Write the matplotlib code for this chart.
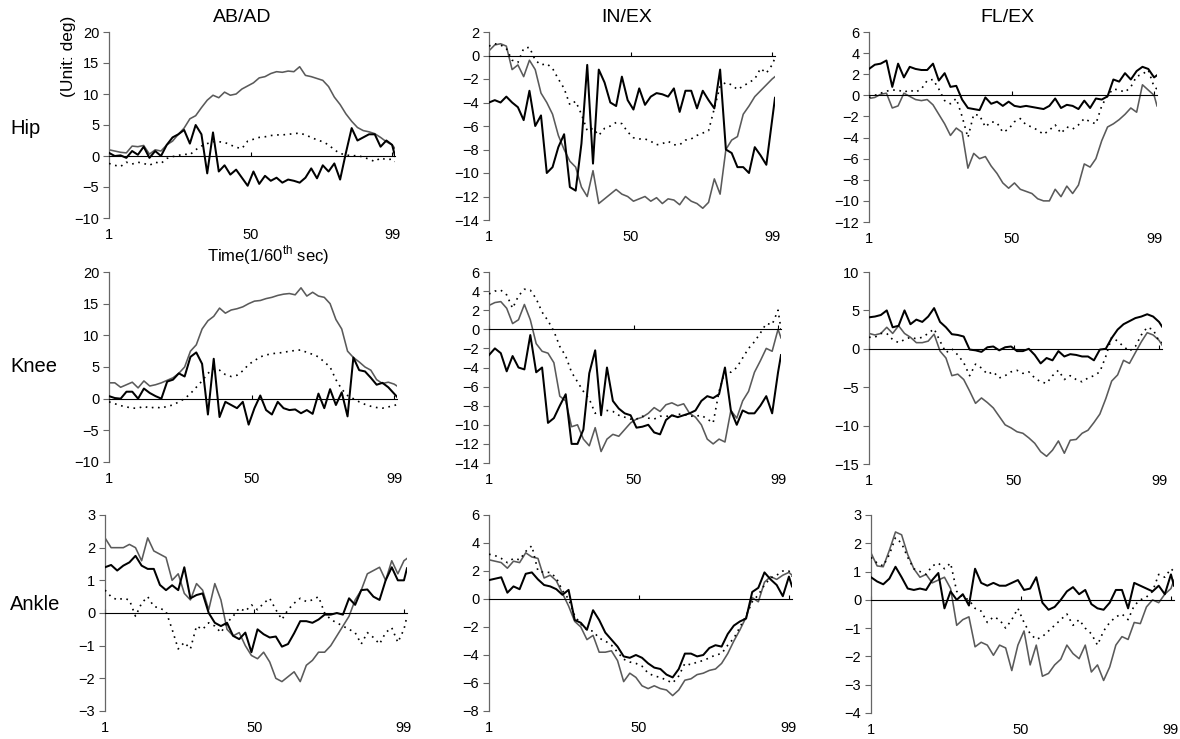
import matplotlib
matplotlib.use("Agg")
import matplotlib.pyplot as plt
import numpy as np

plt.rcParams["font.family"] = ["Liberation Sans", "DejaVu Sans"]
plt.rcParams["mathtext.fontset"] = "custom"
plt.rcParams["mathtext.rm"] = "Liberation Sans"

# frames sampled every second 1/60 s step, last frame = 100
frames = list(range(1, 100, 2)) + [100]

col_titles = ["AB/AD", "IN/EX", "FL/EX"]
row_titles = ["Hip", "Knee", "Ankle"]
x_tick_labels = [1, 50, 99]

# ---- Hip ----
hip_abad_black = [0.5, 0.0, 0.1, -0.3, 0.8, 0.2, 1.5, -0.3, 0.8, 0.0,
                  1.8, 3.0, 3.5, 4.2, 2.0, 5.0, 3.5, -2.8, 3.8, -2.5,
                  -1.5, -3.0, -2.2, -3.5, -4.8, -2.5, -4.5, -3.2, -4.0, -3.5,
                  -4.3, -3.8, -4.0, -4.3, -3.5, -2.0, -3.6, -1.5, -2.5, -1.2,
                  -3.8, 0.5, 4.5, 2.5, 3.0, 3.5, 3.5, 1.5, 2.5, 1.8, 0.0]
hip_abad_gray = [1.0, 0.8, 0.6, 0.5, 1.6, 1.5, 1.7, 0.3, 1.0, 0.8,
                 1.8, 2.4, 3.5, 4.5, 6.0, 6.5, 7.8, 9.0, 9.8, 9.4,
                 10.3, 9.8, 10.0, 10.8, 11.3, 11.8, 12.6, 12.8, 13.3, 13.6,
                 13.5, 13.7, 13.6, 14.4, 13.0, 12.8, 12.5, 12.2, 11.2, 9.5,
                 8.3, 6.8, 5.6, 4.6, 4.1, 3.9, 3.6, 3.0, 2.3, 1.8, 1.2]
hip_abad_dot = [-1.2, -1.5, -1.7, -1.0, -1.3, -1.0, -1.2, -1.5, -1.0, -1.2,
                -0.4, -0.1, 0.1, 0.3, 0.2, 1.0, 1.6, 2.0, 2.3, 2.3,
                2.2, 1.8, 1.4, 1.2, 2.4, 2.7, 3.0, 3.1, 3.3, 3.4,
                3.4, 3.5, 3.6, 3.7, 3.4, 3.0, 2.6, 2.3, 1.8, 1.0,
                0.4, 0.2, 0.0, 0.1, -0.2, -0.5, -0.9, -0.3, -0.6, -0.5, -0.9]

hip_inex_black = [-4.0, -3.8, -4.0, -3.5, -4.0, -4.4, -5.5, -3.0, -6.0, -5.1,
                  -10.0, -9.5, -7.8, -6.7, -11.2, -11.5, -7.5, -0.8, -9.2, -1.2,
                  -2.3, -4.0, -4.3, -1.8, -3.8, -4.6, -2.8, -4.2, -3.5, -3.2,
                  -3.3, -3.5, -2.8, -4.8, -3.0, -3.0, -4.5, -3.0, -3.8, -4.5,
                  -1.2, -8.0, -8.3, -9.5, -9.5, -10.0, -7.8, -8.5, -9.3, -5.5, -3.6]
hip_inex_gray = [0.4, 0.9, 1.0, 0.8, -1.2, -0.8, -1.8, -0.4, -1.2, -3.2,
                 -4.0, -5.0, -6.8, -8.0, -9.0, -9.5, -11.2, -12.0, -9.8, -12.6,
                 -12.2, -11.8, -11.4, -11.8, -12.0, -12.4, -12.2, -12.0, -12.4, -12.1,
                 -12.6, -12.2, -12.3, -12.7, -12.0, -12.4, -12.6, -13.0, -12.5, -10.5,
                 -11.8, -8.0, -7.2, -6.9, -5.0, -4.3, -3.5, -3.0, -2.5, -2.0, -1.8]
hip_inex_dot = [0.8, 1.0, 0.9, 0.6, -0.4, -0.6, 0.6, 0.7, -0.4, -0.8,
                -0.7, -1.1, -2.0, -2.8, -4.2, -3.9, -5.0, -6.4, -6.2, -6.8,
                -6.2, -6.0, -5.7, -5.8, -6.5, -7.0, -7.1, -7.1, -7.3, -7.6,
                -7.5, -7.3, -7.6, -7.6, -7.2, -7.1, -6.8, -6.6, -6.4, -4.5,
                -2.6, -2.3, -2.5, -2.9, -2.6, -2.3, -2.0, -1.1, -1.5, -0.8, -0.2]

hip_flex_black = [2.5, 2.9, 3.0, 3.3, 0.8, 3.0, 1.7, 2.7, 2.5, 2.4,
                  2.4, 3.0, 1.4, 2.1, 0.8, 0.9, -0.4, -1.2, -1.3, -1.4,
                  -0.2, -0.8, -0.6, -1.0, -0.6, -1.0, -1.1, -1.0, -1.1, -1.2,
                  -1.3, -1.0, -0.3, -1.2, -0.9, -1.0, -1.3, -0.5, -1.2, -0.3,
                  -0.4, -0.1, 1.5, 1.3, 2.1, 1.5, 2.3, 2.7, 2.5, 1.7, 1.9]
hip_flex_gray = [-0.3, -0.2, 0.1, 0.2, -1.2, -1.0, 0.2, -0.1, -0.4, -0.5,
                 -0.4, -0.9, -1.8, -2.7, -3.8, -3.1, -3.5, -6.9, -5.5, -6.0,
                 -5.8, -6.7, -7.4, -8.3, -8.8, -8.3, -8.9, -9.1, -9.3, -9.8,
                 -10.0, -10.0, -8.9, -9.6, -8.6, -9.3, -8.5, -6.5, -6.8, -6.0,
                 -4.3, -3.0, -2.7, -2.3, -1.8, -1.2, -1.6, 1.0, 0.5, 0.0, -1.0]
hip_flex_dot = [-0.2, 0.0, 0.2, 0.4, 0.5, 0.5, 0.3, 0.5, 0.3, 0.6,
                1.4, 1.5, 0.6, -0.5, -0.8, -0.3, -2.0, -4.0, -1.8, -1.9,
                -3.0, -2.5, -2.6, -3.5, -3.2, -2.5, -2.2, -2.8, -3.0, -3.3,
                -3.7, -3.3, -2.8, -3.6, -3.0, -3.2, -2.8, -2.2, -2.5, -2.7,
                -1.0, 0.0, 0.6, 0.5, 0.3, 0.8, 1.8, 2.0, 2.4, 0.8, 0.6]

# ---- Knee ----
knee_abad_black = [0.4, 0.1, 0.0, 1.1, 1.1, 0.0, 1.6, 0.9, 0.4, 0.0,
                   2.7, 3.0, 4.0, 3.5, 6.6, 7.3, 5.5, -2.5, 6.3, -2.9,
                   -0.5, -1.0, -1.5, -0.5, -4.1, -1.5, 0.5, -1.8, -2.5, -0.5,
                   -1.5, -1.8, -1.7, -2.3, -1.8, -2.4, 0.8, -1.5, 1.5, -1.0,
                   1.0, -2.8, 6.5, 4.5, 4.3, 3.3, 2.2, 2.5, 1.8, 0.8, 0.3]
knee_abad_gray = [2.5, 2.5, 1.8, 2.2, 2.6, 1.7, 2.8, 2.0, 2.2, 2.5,
                  2.9, 3.3, 4.0, 5.0, 7.5, 8.5, 11.0, 12.3, 13.0, 14.3,
                  13.5, 14.0, 14.2, 14.5, 15.0, 15.4, 15.5, 15.8, 16.0, 16.3,
                  16.5, 16.6, 16.4, 17.5, 16.2, 16.8, 16.2, 16.0, 15.0, 12.5,
                  11.0, 7.5, 6.5, 5.8, 5.0, 4.5, 3.0, 2.4, 2.6, 2.3, 2.0]
knee_abad_dot = [-0.5, -0.8, -1.1, -1.3, -1.5, -1.5, -1.2, -1.5, -1.3, -1.5,
                 -1.2, -1.0, -0.5, 0.0, 0.8, 1.8, 2.8, 4.0, 4.7, 4.5,
                 3.8, 3.5, 3.7, 4.4, 5.4, 6.0, 6.6, 6.9, 7.1, 7.2,
                 7.3, 7.5, 7.6, 7.7, 7.3, 7.0, 6.6, 5.8, 5.0, 3.0,
                 1.5, 0.5, 0.0, -0.5, -0.9, -1.2, -1.4, -1.5, -1.3, -1.1, -0.9]

knee_inex_black = [-2.7, -2.0, -2.5, -4.4, -2.8, -4.0, -4.2, -0.6, -4.5, -4.0,
                   -9.8, -9.3, -8.0, -6.8, -12.0, -12.0, -10.5, -4.6, -2.2, -9.0,
                   -4.0, -7.5, -8.3, -8.8, -9.0, -10.3, -10.2, -10.0, -10.8, -11.0,
                   -9.5, -9.0, -9.2, -9.0, -8.8, -8.5, -7.5, -7.0, -7.2, -6.8,
                   -4.0, -8.5, -10.0, -8.5, -8.8, -8.8, -8.0, -7.0, -8.8, -4.5, -2.7]
knee_inex_gray = [2.5, 2.8, 2.9, 2.2, 0.6, 1.0, 2.6, 1.0, -1.5, -2.3,
                  -2.5, -3.5, -7.0, -7.5, -10.2, -10.0, -11.5, -12.2, -10.3, -12.8,
                  -11.5, -11.0, -11.2, -10.5, -9.8, -9.4, -9.2, -8.8, -8.2, -8.6,
                  -7.9, -7.7, -8.0, -7.8, -8.8, -9.2, -10.0, -11.5, -12.0, -11.5,
                  -11.8, -8.5, -9.3, -7.5, -6.5, -4.5, -3.3, -2.0, -2.3, 0.0, -0.9]
knee_inex_dot = [3.7, 4.0, 4.1, 3.6, 2.2, 3.5, 4.2, 4.1, 3.2, 1.8,
                 0.9, -0.2, -1.8, -2.8, -4.5, -5.5, -6.5, -7.3, -8.8, -8.5,
                 -8.5, -8.6, -9.0, -9.2, -9.4, -9.4, -9.1, -9.3, -9.4, -9.1,
                 -9.1, -9.1, -8.9, -8.9, -9.1, -9.1, -9.0, -9.4, -9.8, -6.5,
                 -4.4, -4.5, -4.0, -3.0, -2.0, -1.3, -0.4, 0.6, 0.5, 2.0, 0.0]

knee_flex_black = [4.1, 4.2, 4.4, 5.0, 2.8, 3.0, 5.0, 3.2, 3.8, 3.5,
                   4.2, 5.3, 3.5, 2.8, 1.9, 1.8, 1.6, -0.1, -0.2, -0.4,
                   0.2, 0.3, -0.2, 0.2, 0.3, -0.3, -0.3, 0.0, -0.8, -1.9,
                   -1.2, -1.5, -0.3, -1.0, -0.7, -0.8, -1.0, -1.0, -1.5, -0.1,
                   0.0, 1.4, 2.5, 3.2, 3.6, 4.0, 4.2, 4.5, 4.2, 3.5, 2.9]
knee_flex_gray = [2.0, 1.8, 2.0, 2.8, 2.0, 3.0, 2.0, 1.5, 0.8, 0.8,
                  1.0, 1.9, -0.3, -1.2, -3.5, -3.3, -4.0, -5.5, -7.1, -6.4,
                  -7.0, -7.7, -8.8, -9.9, -10.3, -10.8, -11.0, -11.6, -12.3, -13.4,
                  -14.0, -13.2, -12.0, -13.6, -11.9, -11.8, -11.0, -10.6, -9.6, -8.5,
                  -6.5, -4.2, -3.4, -1.5, -1.9, -0.5, 0.9, 2.1, 1.8, 1.1, 0.5]
knee_flex_dot = [1.5, 1.5, 2.0, 2.0, 1.2, 0.8, 1.2, 1.5, 1.3, 1.5,
                 2.0, 2.6, 1.0, -0.5, 0.0, -0.8, -1.8, -3.5, -2.0, -2.5,
                 -3.3, -3.0, -3.8, -3.5, -3.0, -2.8, -3.2, -3.0, -3.8, -4.3,
                 -4.5, -3.5, -2.8, -4.0, -3.5, -4.0, -4.3, -3.8, -3.5, -3.0,
                 -1.0, 1.5, 1.0, 0.3, -0.3, 0.3, 1.8, 2.8, 2.5, 1.0, 0.8]

# ---- Ankle ----
ankle_abad_black = [1.4, 1.47, 1.3, 1.45, 1.55, 1.75, 1.45, 1.35, 1.35, 0.86,
                    0.7, 0.85, 0.7, 1.4, 0.45, 0.55, 0.6, 0.0, -0.3, -0.4,
                    -0.3, -0.7, -0.8, -0.6, -1.2, -0.5, -0.65, -0.75, -0.72, -1.03,
                    -0.95, -0.62, -0.25, -0.25, -0.3, -0.2, -0.05, -0.05, 0.0, -0.05,
                    0.45, 0.25, 0.7, 0.72, 0.5, 0.4, 1.0, 1.4, 1.0, 1.0, 1.37]
ankle_abad_gray = [2.3, 2.0, 2.0, 2.0, 2.1, 2.0, 1.6, 2.3, 1.9, 1.8,
                   1.7, 1.0, 1.2, 0.6, 0.4, 0.9, 0.7, 0.1, 0.9, 0.4,
                   -0.5, -0.7, -0.6, -1.0, -1.3, -1.4, -1.2, -1.5, -2.0, -2.1,
                   -1.95, -1.8, -2.1, -1.6, -1.45, -1.2, -1.2, -1.0, -0.7, -0.4,
                   -0.1, 0.4, 0.7, 1.2, 1.3, 1.4, 1.0, 1.6, 1.2, 1.6, 1.67]
ankle_abad_dot = [0.7, 0.5, 0.4, 0.45, 0.4, -0.1, 0.3, 0.5, 0.2, 0.15,
                  0.05, -0.5, -1.1, -0.9, -1.1, -0.4, -0.5, -0.3, -0.4, -0.6,
                  -0.3, -0.1, 0.15, 0.05, 0.25, 0.1, 0.3, 0.45, 0.1, -0.2,
                  0.1, 0.3, 0.45, 0.35, 0.4, 0.5, 0.0, -0.2, -0.3, -0.4,
                  -0.5, -0.6, -0.95, -0.6, -0.75, -0.95, -0.6, -0.45, -0.9, -0.5, -0.1]

ankle_inex_black = [1.35, 1.45, 1.55, 0.45, 0.9, 0.7, 1.8, 1.9, 1.4, 1.0,
                    0.9, 0.7, 0.3, 0.65, -1.5, -1.7, -2.2, -0.8, -1.5, -2.4,
                    -2.9, -3.4, -4.1, -4.2, -4.0, -4.2, -4.6, -4.9, -5.0, -5.4,
                    -5.6, -5.0, -3.9, -3.9, -4.1, -4.0, -3.5, -3.3, -3.4, -2.5,
                    -1.9, -1.6, -1.4, 0.5, 0.8, 1.9, 1.4, 1.0, 0.2, 1.6, 0.9]
ankle_inex_gray = [2.8, 2.7, 2.6, 2.2, 2.7, 2.6, 3.3, 3.0, 2.9, 1.5,
                   1.7, 1.3, 0.4, -0.5, -1.6, -2.0, -2.9, -2.6, -3.8, -3.8,
                   -3.7, -4.4, -5.9, -5.3, -5.6, -6.2, -6.4, -6.2, -6.4, -6.5,
                   -6.9, -6.5, -5.8, -5.7, -5.4, -5.3, -5.1, -5.0, -4.6, -3.9,
                   -3.0, -2.2, -1.3, 0.1, -0.2, 1.2, 1.6, 1.4, 1.7, 1.9, 1.7]
ankle_inex_dot = [3.2, 3.1, 2.9, 2.6, 2.9, 2.8, 3.4, 3.8, 2.0, 1.9,
                  1.9, 1.5, 0.6, 0.0, -1.2, -1.8, -2.2, -2.3, -2.8, -3.0,
                  -3.3, -3.8, -4.3, -4.5, -4.6, -4.8, -5.3, -5.5, -5.6, -5.8,
                  -6.0, -5.5, -4.6, -4.7, -4.5, -4.4, -4.2, -4.0, -3.9, -3.3,
                  -2.8, -2.0, -1.2, -0.2, 0.3, 1.0, 1.5, 1.7, 2.0, 2.0, 1.6]

ankle_flex_black = [0.8, 0.65, 0.55, 0.75, 1.17, 0.8, 0.4, 0.35, 0.4, 0.35,
                    0.7, 0.95, -0.3, 0.3, 0.0, 0.2, -0.2, 1.1, 0.6, 0.5,
                    0.6, 0.5, 0.5, 0.6, 0.7, 0.35, 0.4, 0.8, -0.1, -0.35,
                    -0.25, 0.0, 0.3, 0.45, 0.2, 0.35, -0.15, -0.3, -0.35, -0.1,
                    0.35, 0.35, -0.3, 0.6, 0.5, 0.4, 0.3, 0.5, 0.2, 0.9, 0.5]
ankle_flex_gray = [1.66, 1.2, 1.17, 1.75, 2.4, 2.3, 1.6, 1.1, 0.8, 0.9,
                   0.6, 0.7, 0.8, 0.4, -0.9, -0.7, -0.6, -1.66, -1.5, -1.6,
                   -1.96, -1.6, -1.7, -2.5, -1.6, -1.1, -2.3, -1.6, -2.7, -2.6,
                   -2.3, -2.1, -1.6, -1.9, -2.08, -1.6, -2.55, -2.3, -2.85, -2.37,
                   -1.6, -1.3, -1.4, -0.8, -0.84, -0.25, 0.0, -0.1, 0.2, 0.4, 0.7]
ankle_flex_dot = [1.5, 1.3, 1.2, 1.6, 2.2, 2.0, 1.5, 1.1, 1.0, 0.9,
                  1.2, 1.3, 1.1, 1.3, 0.3, 0.1, 0.0, -0.3, -0.4, -0.8,
                  -0.6, -0.7, -1.0, -0.7, -0.3, -0.8, -1.2, -1.4, -1.3, -1.1,
                  -0.9, -0.7, -0.5, -0.9, -0.7, -1.0, -1.2, -1.6, -1.1, -0.8,
                  -0.6, -0.5, -0.7, -0.2, 0.0, 0.1, 0.3, 0.9, 0.8, 1.1, 1.0]

# y ranges per panel: (min, max, step)
y_ranges = [
    [(-10, 20, 5), (-14, 2, 2), (-12, 6, 2)],
    [(-10, 20, 5), (-14, 6, 2), (-15, 10, 5)],
    [(-3, 3, 1), (-8, 6, 2), (-4, 3, 1)],
]

series = [
    [(hip_abad_black, hip_abad_gray, hip_abad_dot),
     (hip_inex_black, hip_inex_gray, hip_inex_dot),
     (hip_flex_black, hip_flex_gray, hip_flex_dot)],
    [(knee_abad_black, knee_abad_gray, knee_abad_dot),
     (knee_inex_black, knee_inex_gray, knee_inex_dot),
     (knee_flex_black, knee_flex_gray, knee_flex_dot)],
    [(ankle_abad_black, ankle_abad_gray, ankle_abad_dot),
     (ankle_inex_black, ankle_inex_gray, ankle_inex_dot),
     (ankle_flex_black, ankle_flex_gray, ankle_flex_dot)],
]

# axes boxes in pixels: left, top, right, bottom
boxes = [
    [(109, 32, 395, 218), (489, 32, 775, 220), (869, 32, 1157, 222)],
    [(109, 272, 397, 462), (489, 272, 781, 463), (869, 272, 1162, 464)],
    [(105, 515, 407, 711), (489, 515, 792, 711), (871, 515, 1174, 713)],
]

W, H = 1180, 739
fig = plt.figure(figsize=(W / 100, H / 100), dpi=100)


def draw_panel(ax, black, gray, dotted, yr):
    lo, hi, step = yr
    ax.plot(frames, gray, color="#5a5a5a", lw=1.15, zorder=2)
    ax.plot(frames, dotted, color="black", lw=1.2, ls=(0, (1, 2.8)), zorder=3)
    ax.plot(frames, black, color="black", lw=1.45, zorder=4)

    ax.set_xlim(1, 100)
    ax.set_ylim(lo, hi)
    ax.set_yticks(np.arange(lo, hi + step / 2, step))

    for s in ("top", "right"):
        ax.spines[s].set_visible(False)
    ax.spines["left"].set_color("#666666")
    ax.spines["left"].set_linewidth(0.9)
    ax.spines["bottom"].set_position(("data", 0))
    ax.spines["bottom"].set_color("black")
    ax.spines["bottom"].set_linewidth(0.8)

    ax.tick_params(axis="y", direction="out", length=4, width=0.8,
                   color="#666666", labelsize=10.5, pad=3)
    ax.set_xticks(x_tick_labels)
    ax.tick_params(axis="x", direction="in", length=3, width=0.8,
                   labelbottom=False)

    sec = ax.secondary_xaxis("bottom")
    sec.set_xticks(x_tick_labels)
    sec.tick_params(length=0, pad=7, labelsize=10.5)
    sec.spines["bottom"].set_visible(False)


for r in range(3):
    for c in range(3):
        x0, y0, x1, y1 = boxes[r][c]
        ax = fig.add_axes([x0 / W, 1 - y1 / H, (x1 - x0) / W, (y1 - y0) / H])
        black, gray, dotted = series[r][c]
        draw_panel(ax, black, gray, dotted, y_ranges[r][c])

# column titles
for x, t in zip([242, 627, 1007], col_titles):
    fig.text(x / W, 1 - 17 / H, t, ha="center", va="center", fontsize=14)

# row titles
for y, t in zip([128, 366, 604], row_titles):
    fig.text(10 / W, 1 - y / H, t, ha="left", va="center", fontsize=14.5)

fig.text(69 / W, 1 - 97 / H, "(Unit: deg)", rotation=90, ha="center",
         va="bottom", fontsize=12.5)
fig.text(268 / W, 1 - 255 / H, r"Time(1/60$^{\mathrm{th}}$ sec)",
         ha="center", va="center", fontsize=12)

fig.savefig("out.png", dpi=100)
